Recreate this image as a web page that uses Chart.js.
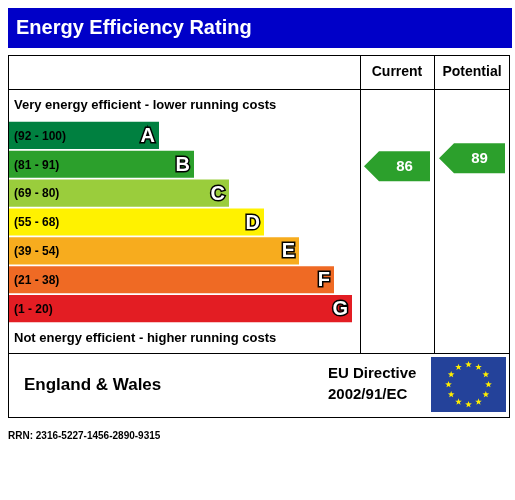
<!DOCTYPE html>
<html>
<head>
<meta charset="utf-8">
<script src="https://cdn.jsdelivr.net/npm/chart.js@4"></script>
<style>
  body { margin: 0; background: #fff; }
  #wrap { position: relative; width: 515px; height: 500px; }
</style>
</head>
<body>
<div id="wrap"><canvas id="epcChart" width="515" height="500"></canvas></div>
<script>
const bands = ["A", "B", "C", "D", "E", "F", "G"];
const bandRanges = ["(92 - 100)", "(81 - 91)", "(69 - 80)", "(55 - 68)", "(39 - 54)", "(21 - 38)", "(1 - 20)"];
const bandMax = [100, 91, 80, 68, 54, 38, 20];
const bandMin = [92, 81, 69, 55, 39, 21, 1];
const barLengths = [150, 185, 220, 255, 290, 325, 343];
const bandColors = ["#008040", "#2ca02c", "#9acd3c", "#fff200", "#f7ac1e", "#ef6a24", "#e31d23"];
const currentRating = 86;
const potentialRating = 89;

const F = "'Liberation Sans', Arial, sans-serif";

function bandIndex(v) {
  return bandMax.findIndex((m, i) => v <= m && v >= bandMin[i]);
}

const epcPlugin = {
  id: "epc",
  beforeDraw(chart) {
    const c = chart.ctx;
    c.save();
    // title bar
    c.fillStyle = "#0000c8";
    c.fillRect(8, 8, 504, 40);
    c.fillStyle = "#fff";
    c.font = "bold 20px " + F;
    c.textBaseline = "middle";
    c.fillText("Energy Efficiency Rating", 16, 28);
    // frame
    c.strokeStyle = "#000";
    c.lineWidth = 1;
    c.strokeRect(8.5, 55.5, 501, 362);
    c.beginPath();
    c.moveTo(8, 89.5); c.lineTo(510, 89.5);
    c.moveTo(8, 353.5); c.lineTo(510, 353.5);
    c.moveTo(360.5, 55); c.lineTo(360.5, 353);
    c.moveTo(434.5, 55); c.lineTo(434.5, 353);
    c.stroke();
    c.fillStyle = "#000";
    c.font = "bold 14px " + F;
    c.textAlign = "center";
    c.fillText("Current", 397, 72);
    c.fillText("Potential", 472, 72);
    c.textAlign = "left";
    c.font = "bold 13px " + F;
    c.fillText("Very energy efficient - lower running costs", 14, 105);
    c.fillText("Not energy efficient - higher running costs", 14, 338);
    c.font = "bold 17px " + F;
    c.fillText("England & Wales", 24, 385);
    c.font = "bold 15px " + F;
    c.fillText("EU Directive", 328, 374);
    c.fillText("2002/91/EC", 328, 395);
    // EU flag
    c.fillStyle = "#24429a";
    c.fillRect(431, 357, 75, 55);
    c.fillStyle = "#ffee00";
    for (let k = 0; k < 12; k++) {
      const a = k * Math.PI / 6;
      star(c, 468.5 + 20 * Math.sin(a), 384.5 - 20 * Math.cos(a), 3.5);
    }
    c.fillStyle = "#000";
    c.font = "bold 10px " + F;
    c.fillText("RRN: 2316-5227-1456-2890-9315", 8, 436);
    c.restore();
  },
  afterDatasetsDraw(chart) {
    const c = chart.ctx;
    const meta = chart.getDatasetMeta(0);
    c.save();
    c.textBaseline = "middle";
    meta.data.forEach((bar, i) => {
      c.fillStyle = "#000";
      c.font = "bold 12px " + F;
      c.textAlign = "left";
      c.fillText(bandRanges[i], 14, bar.y + 1);
      c.font = "bold 20px " + F;
      c.textAlign = "right";
      c.lineWidth = 3;
      c.strokeStyle = "#000";
      c.strokeText(bands[i], bar.x - 4, bar.y + 1);
      c.fillStyle = "#fff";
      c.fillText(bands[i], bar.x - 4, bar.y + 1);
    });
    const yFor = v => {
      const i = bandIndex(v);
      const b = meta.data[i];
      const top = b.y - b.height / 2;
      return top + (bandMax[i] - v) / (bandMax[i] - bandMin[i]) * b.height + 2;
    };
    arrow(c, 364, 430, yFor(currentRating), currentRating, bandColors[bandIndex(currentRating)]);
    arrow(c, 439, 505, yFor(potentialRating), potentialRating, bandColors[bandIndex(potentialRating)]);
    c.restore();
  }
};

function star(c, x, y, r) {
  c.beginPath();
  for (let k = 0; k < 10; k++) {
    const a = k * Math.PI / 5 - Math.PI / 2;
    const rr = k % 2 ? r * 0.4 : r;
    c.lineTo(x + rr * Math.cos(a), y + rr * Math.sin(a));
  }
  c.closePath();
  c.fill();
}

function arrow(c, x0, x1, y, v, col) {
  const h = 15;
  c.fillStyle = col;
  c.beginPath();
  c.moveTo(x0, y);
  c.lineTo(x0 + h, y - h);
  c.lineTo(x1, y - h);
  c.lineTo(x1, y + h);
  c.lineTo(x0 + h, y + h);
  c.closePath();
  c.fill();
  c.fillStyle = "#fff";
  c.font = "bold 15px " + F;
  c.textAlign = "center";
  c.fillText(String(v), (x0 + h + x1) / 2, y + 1);
}

new Chart(document.getElementById("epcChart"), {
  type: "bar",
  data: {
    labels: bands,
    datasets: [{
      data: barLengths,
      backgroundColor: bandColors,
      barPercentage: 0.94,
      categoryPercentage: 1
    }]
  },
  options: {
    indexAxis: "y",
    responsive: false,
    animation: false,
    layout: { padding: { left: 9, top: 121, right: 515 - 352, bottom: 500 - 323 } },
    plugins: { legend: { display: false }, tooltip: { enabled: false } },
    scales: {
      x: { display: false, min: 0, max: 343 },
      y: { display: false }
    }
  },
  plugins: [epcPlugin]
});
</script>
</body>
</html>
